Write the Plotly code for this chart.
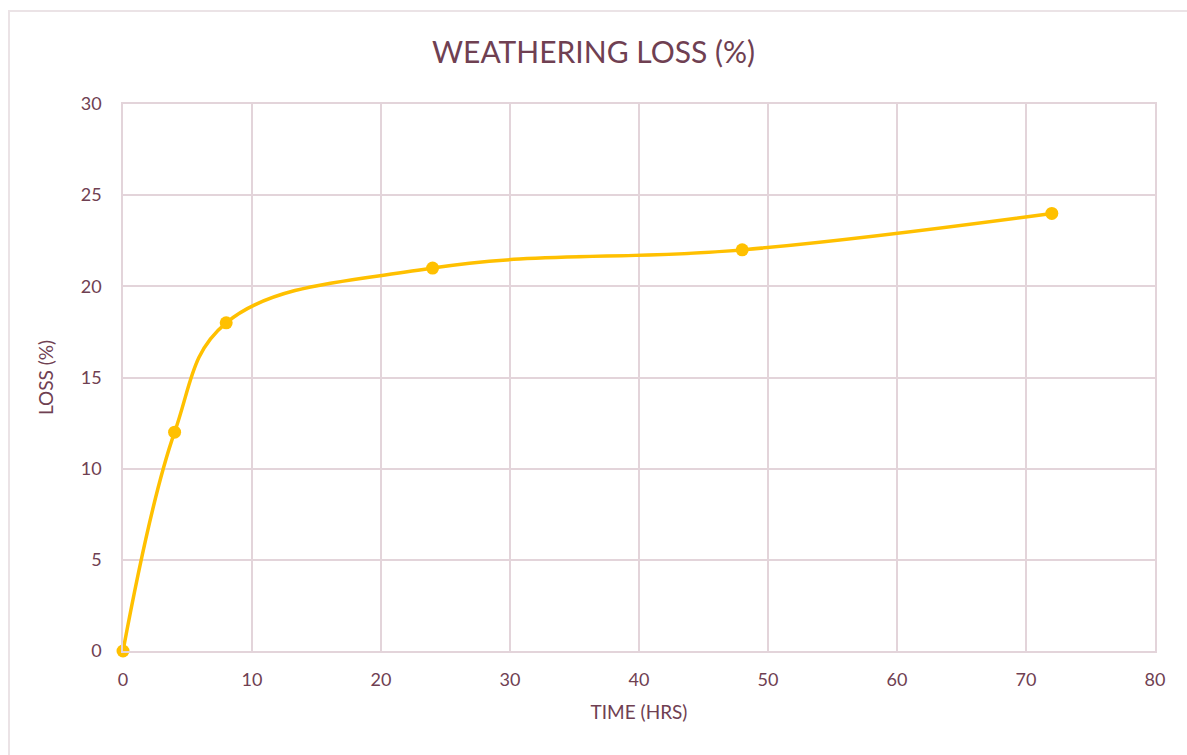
import plotly.graph_objects as go

# Weathering loss over time
time_hrs = [0, 4, 8, 24, 48, 72]
loss_pct = [0, 12, 18, 21, 22, 24]
x_ticks = [0, 10, 20, 30, 40, 50, 60, 70, 80]
y_ticks = [0, 5, 10, 15, 20, 25, 30]

text_color = "#6F4052"
grid_color = "#E3D4DA"
line_color = "#FFC000"
font_family = "Lato"

fig = go.Figure()
fig.add_trace(go.Scatter(
    x=time_hrs,
    y=loss_pct,
    mode="lines+markers",
    line=dict(color=line_color, width=3.5, shape="spline", smoothing=1.1),
    marker=dict(color=line_color, size=13),
    showlegend=False,
    cliponaxis=False,
))

fig.update_layout(
    width=1187,
    height=755,
    margin=dict(l=123, r=32, t=104, b=104),
    paper_bgcolor="white",
    plot_bgcolor="white",
    font=dict(family=font_family, color=text_color, size=18),
    title=dict(
        text="WEATHERING LOSS (%)",
        x=0.5, xanchor="center",
        y=1 - 52 / 755, yanchor="middle",
        font=dict(size=30, color=text_color, family=font_family),
    ),
    xaxis=dict(
        range=[0, 80],
        tickvals=x_ticks,
        showgrid=True, gridcolor=grid_color, gridwidth=1.5,
        showline=True, linecolor=grid_color, linewidth=1.5, mirror=True,
        zeroline=False,
        ticks="", ticklabelstandoff=12,
        title=dict(text="TIME (HRS)", standoff=16, font=dict(size=19)),
        tickfont=dict(size=18),
    ),
    yaxis=dict(
        range=[0, 30],
        tickvals=y_ticks,
        showgrid=True, gridcolor=grid_color, gridwidth=1.5,
        showline=True, linecolor=grid_color, linewidth=1.5, mirror=True,
        zeroline=False,
        ticks="", ticklabelstandoff=16,
        title=dict(text="LOSS (%)", standoff=22, font=dict(size=19)),
        tickfont=dict(size=18),
    ),
)

# Outer chart frame
fig.add_shape(
    type="rect", xref="paper", yref="paper",
    x0=-114 / 1032, x1=1.2, y0=-0.3, y1=1 + 93 / 547,
    line=dict(color="#EBE3E6", width=2),
    layer="below",
)

fig.write_html("out.html")
